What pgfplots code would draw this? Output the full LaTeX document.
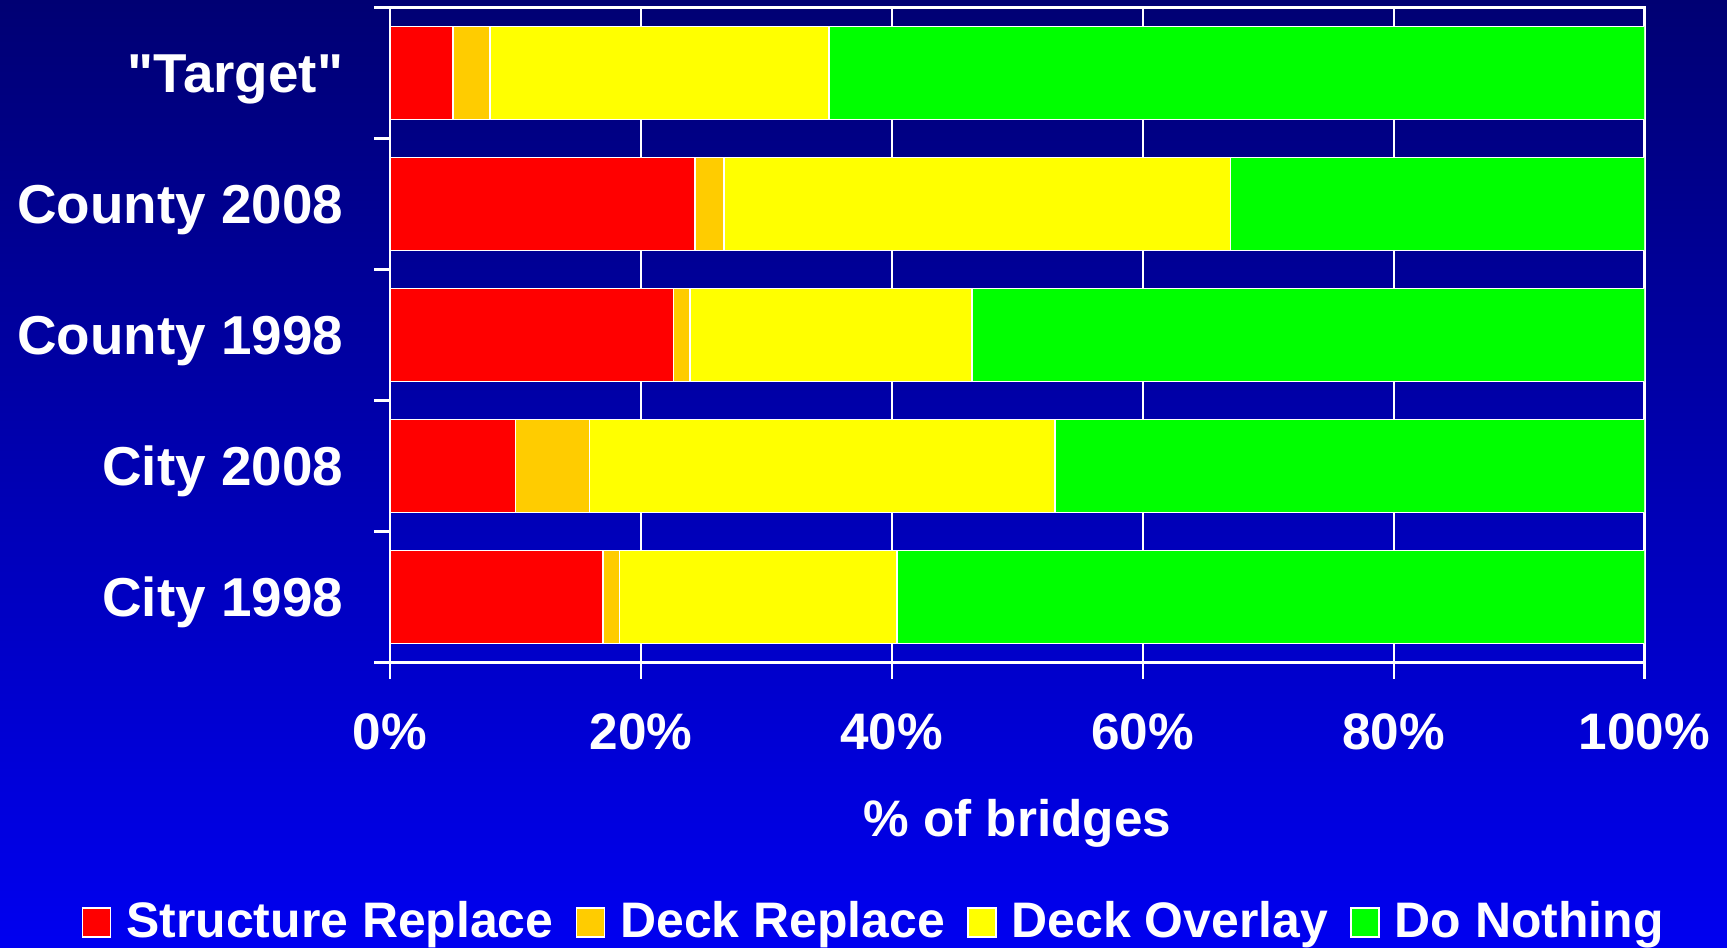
\documentclass[border=0pt]{standalone}
\usepackage{fontspec}
\setmainfont{Liberation Sans}
\usepackage{pgfplots}
\pgfplotsset{compat=1.18}

\definecolor{bgtop}{RGB}{0,0,115}
\definecolor{bgbottom}{RGB}{0,0,240}
\definecolor{sreplace}{RGB}{255,0,0}
\definecolor{dreplace}{RGB}{255,204,0}
\definecolor{doverlay}{RGB}{255,255,0}
\definecolor{dnothing}{RGB}{0,255,0}

\pgfplotsset{
  boxlegend/.style={
    legend image code/.code={
      \draw[##1, draw=white, line width=0.5pt] (0cm,-0.145cm) rectangle (0.28cm,0.145cm);
    }
  }
}

\begin{document}
\begin{tikzpicture}
\shade[top color=bgtop, bottom color=bgbottom] (0,0) rectangle (17.27,9.47);
\useasboundingbox (0,0) rectangle (17.27,9.47);
\begin{axis}[
    at={(3.90cm,2.845cm)}, anchor=south west,
    scale only axis,
    width=12.545cm, height=6.55cm,
    xbar stacked,
    bar width=0.71,
    xmin=0, xmax=100,
    ymin=-0.5, ymax=4.5,
    xtick={0,20,40,60,80,100},
    xticklabels={0\%,20\%,40\%,60\%,80\%,100\%},
    ytick={-0.5,0.5,1.5,2.5,3.5,4.5},
    yticklabels={},
    xtick pos=bottom, ytick pos=left,
    extra y ticks={0,1,2,3,4},
    extra y tick labels={City 1998,City 2008,County 1998,County 2008,\textquotedbl Target\textquotedbl},
    extra y tick style={
      tick style={draw=none},
      yticklabel style={anchor=base east, xshift=-1.85mm, yshift=-5.6pt,
        font=\fontsize{15.6}{18}\selectfont\bfseries, text=white}
    },
    xmajorgrids=true,
    grid style={white, line width=0.5pt, solid},
    axis line style={white, line width=0.6pt},
    tick align=outside,
    major tick length=1.6mm,
    tick style={white, line width=0.6pt},
    xticklabel style={anchor=base, yshift=-7.1mm,
      font=\fontsize{14.6}{17}\selectfont\bfseries, text=white},
    xlabel={\% of bridges},
    xlabel style={at={(axis description cs:0.5,0)}, anchor=base, yshift=-17.4mm,
      font=\fontsize{14.6}{17}\selectfont\bfseries, text=white},
    legend columns=4,
    legend style={
      at={(axis description cs:0.3847,-0.397)}, anchor=center,
      draw=none, fill=none,
      font=\fontsize{14.2}{16}\selectfont\bfseries, text=white,
      nodes={inner sep=0pt},
      /tikz/every odd column/.append style={column sep=1.5mm},
      /tikz/every even column/.append style={column sep=2.2mm}
    },
]

% City 1998, City 2008, County 1998, County 2008, "Target"
\addplot[fill=sreplace, draw=white, line width=0.5pt, boxlegend]
  coordinates {(17,0) (10,1) (22.6,2) (24.3,3) (5,4)};
\addplot[fill=dreplace, draw=white, line width=0.5pt, boxlegend]
  coordinates {(1.3,0) (5.9,1) (1.3,2) (2.3,3) (3,4)};
\addplot[fill=doverlay, draw=white, line width=0.5pt, boxlegend]
  coordinates {(22.1,0) (37.1,1) (22.5,2) (40.4,3) (27,4)};
\addplot[fill=dnothing, draw=white, line width=0.5pt, boxlegend]
  coordinates {(59.6,0) (47,1) (53.6,2) (33,3) (65,4)};

\legend{Structure Replace, Deck Replace, Deck Overlay, Do Nothing}
\end{axis}
\end{tikzpicture}
\end{document}
